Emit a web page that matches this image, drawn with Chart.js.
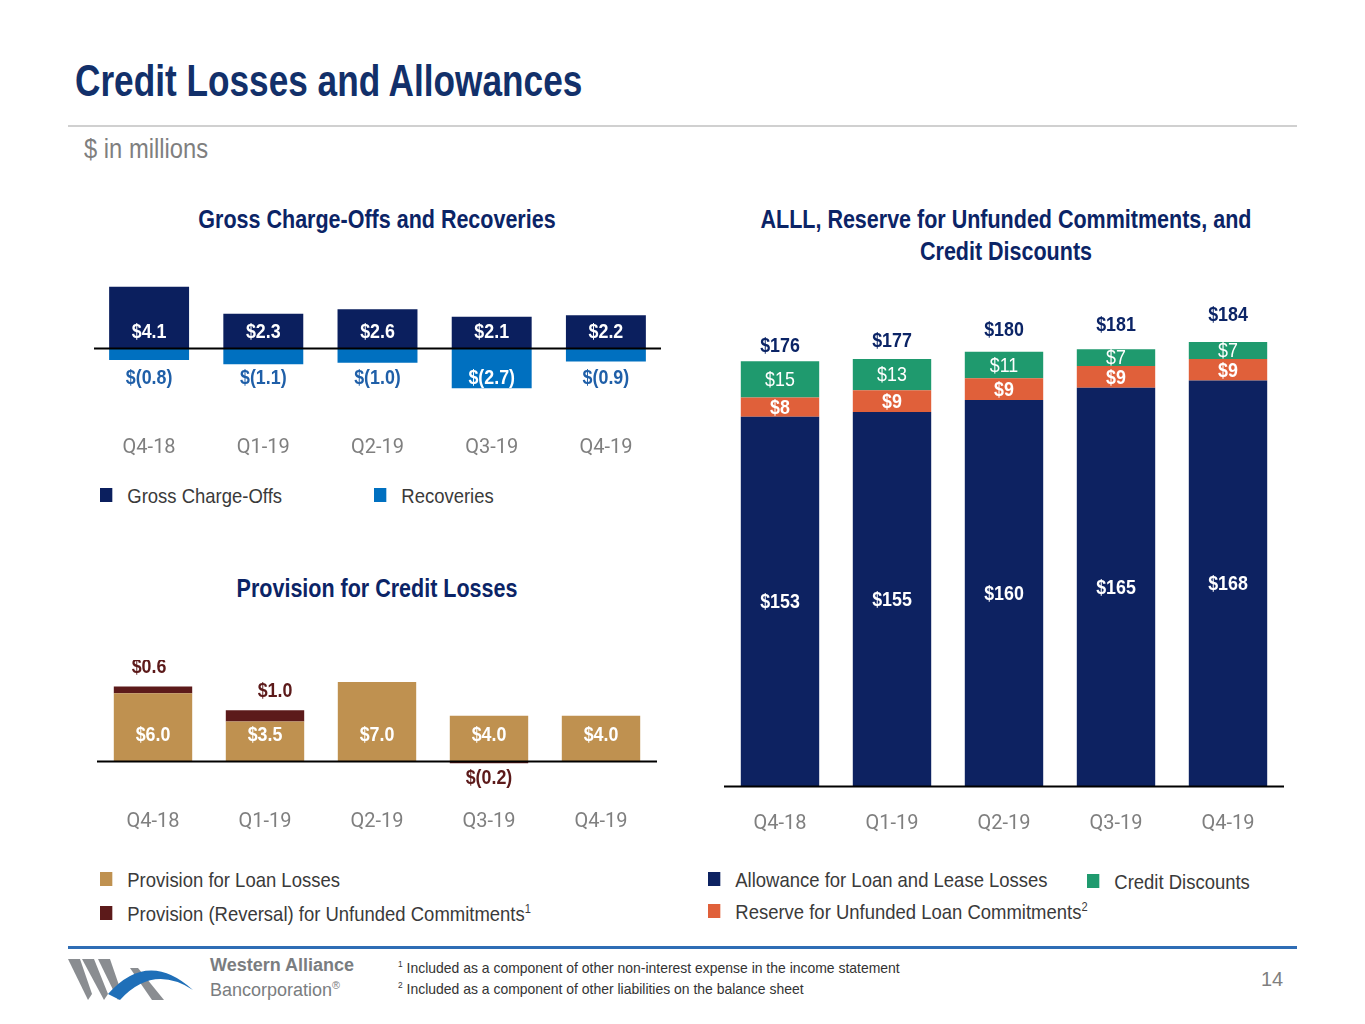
<!DOCTYPE html>
<html>
<head>
<meta charset="utf-8">
<script src="https://cdn.jsdelivr.net/npm/chart.js@4/dist/chart.umd.min.js"></script>
<style>
  body { margin: 0; width: 1365px; height: 1024px; background: #fff; position: relative; overflow: hidden;
    font-family: "Liberation Sans", sans-serif; }
  .abs { position: absolute; }
  .title { left: 75px; top: 56px; font-size: 44px; font-weight: bold; color: #12306a; transform: scaleX(0.8); transform-origin: left; white-space: nowrap; }
  .sub { left: 84px; top: 134px; font-size: 27px; color: #7f7f7f; transform: scaleX(0.88); transform-origin: left; }
  .ctitle { font-size: 25px; font-weight: bold; color: #0b2466; text-align: center; line-height: 32px; transform: scaleX(0.86); transform-origin: center; }
  .leg { font-size: 21px; color: #3a3a3a; white-space: nowrap; transform: scaleX(0.88); transform-origin: left; }
  .leg i { display: inline-block; width: 14px; height: 14px; margin-right: 17px; vertical-align: 1px; }
  .foot { left: 398px; font-size: 15px; color: #333; transform: scaleX(0.93); transform-origin: left; white-space: nowrap; }
  sup { font-size: 60%; }
</style>
</head>
<body>
<div class="abs title">Credit Losses and Allowances</div>
<div class="abs" style="left:68px;top:125px;width:1229px;height:2px;background:#d0d0d0"></div>
<div class="abs sub">$ in millions</div>

<div class="abs ctitle" style="left:57px;width:640px;top:203px">Gross Charge-Offs and Recoveries</div>
<div class="abs ctitle" style="left:676px;width:660px;top:203px">ALLL, Reserve for Unfunded Commitments, and<br>Credit Discounts</div>
<div class="abs ctitle" style="left:57px;width:640px;top:572px">Provision for Credit Losses</div>

<canvas id="chGross" class="abs" style="left:78px;top:270px"></canvas>
<canvas id="chProv" class="abs" style="left:97px;top:660px"></canvas>
<canvas id="chAlll" class="abs" style="left:724px;top:300px"></canvas>

<div class="abs leg" style="left:100px;top:484px"><i style="background:#0b1f5e"></i>Gross Charge-Offs</div>
<div class="abs leg" style="left:374px;top:484px"><i style="background:#0070c0"></i>Recoveries</div>
<div class="abs leg" style="left:100px;top:868px"><i style="background:#bf9150"></i>Provision for Loan Losses</div>
<div class="abs leg" style="left:100px;top:902px"><i style="background:#5c1a1a"></i>Provision (Reversal) for Unfunded Commitments<sup>1</sup></div>
<div class="abs leg" style="left:708px;top:868px"><i style="background:#0d2261"></i>Allowance for Loan and Lease Losses</div>
<div class="abs leg" style="left:1087px;top:870px"><i style="background:#1f9a6e"></i>Credit Discounts</div>
<div class="abs leg" style="left:708px;top:900px"><i style="background:#e0603a"></i>Reserve for Unfunded Loan Commitments<sup>2</sup></div>

<div class="abs" style="left:68px;top:946px;width:1229px;height:3px;background:#2f6db5"></div>
<svg class="abs" style="left:68px;top:954px" width="130" height="50">
  <polygon points="0,5 12,5 24,40 20,46" fill="#8a8d91"/>
  <polygon points="14,5 26,5 40,40 36,46" fill="#8a8d91"/>
  <polygon points="30,5 42,5 54,40 50,46" fill="#8a8d91"/>
  <polygon points="62,14 70,14 96,46 84,46" fill="#8a8d91"/>
  <path d="M40,40 Q80,-5 125,36 Q85,10 52,46 Z" fill="#1f6fb8"/>
</svg>
<div class="abs" style="left:210px;top:955px;font-size:18px;font-weight:bold;color:#7a7d80">Western Alliance</div>
<div class="abs" style="left:210px;top:979px;font-size:18px;color:#7a7d80">Bancorporation<sup>®</sup></div>
<div class="abs foot" style="top:959px"><sup>1</sup> Included as a component of other non-interest expense in the income statement</div>
<div class="abs foot" style="top:980px"><sup>2</sup> Included as a component of other liabilities on the balance sheet</div>
<div class="abs" style="left:1261px;top:968px;font-size:20px;color:#7f7f7f">14</div>

<script>
const quarters = ["Q4-18", "Q1-19", "Q2-19", "Q3-19", "Q4-19"];
const grossChargeOffs = [4.1, 2.3, 2.6, 2.1, 2.2];
const recoveries = [-0.8, -1.1, -1.0, -2.7, -0.9];
const loanProvision = [6.0, 3.5, 7.0, 4.0, 4.0];
const unfundedProvision = [0.6, 1.0, 0, -0.2, 0];
const alll = [153, 155, 160, 165, 168];
const unfundedReserve = [8, 9, 9, 9, 9];
const creditDiscounts = [15, 13, 11, 7, 7];
const totals = [176, 177, 180, 181, 184];

const FONT = "Roboto";
Chart.defaults.font.family = FONT;
Chart.defaults.animation = false;
Chart.defaults.responsive = false;
Chart.defaults.devicePixelRatio = 1;

const money = (v, d) => v < 0 ? "$(" + Math.abs(v).toFixed(d) + ")" : "$" + v.toFixed(d);

// line at zero; optional inset keeps it to the visible plot width
const zeroLine = {
  id: "zeroLine",
  afterDatasetsDraw(chart, args, opts) {
    const { ctx, chartArea, scales } = chart;
    const inset = opts.inset || 0;
    const y = Math.round(scales.y.getPixelForValue(0)) + 0.5;
    ctx.save();
    ctx.strokeStyle = "#000";
    ctx.lineWidth = 2;
    ctx.beginPath();
    ctx.moveTo(chartArea.left + inset, y);
    ctx.lineTo(chartArea.right - inset, y);
    ctx.stroke();
    ctx.restore();
  },
};

const barLabels = {
  id: "barLabels",
  afterDraw(chart, args, opts) {
    const ctx = chart.ctx;
    ctx.save();
    ctx.textAlign = "center";
    ctx.textBaseline = "middle";
    opts.fn(ctx, chart);
    ctx.restore();
  },
};

// narrow look: squeeze Liberation Sans horizontally
function text(ctx, s, x, y, color, bold) {
  ctx.save();
  ctx.translate(x, y);
  ctx.scale(0.85, 1);
  ctx.fillStyle = color;
  ctx.font = (bold ? "bold " : "") + "21px 'Liberation Sans'";
  ctx.fillText(s, 0, 0);
  ctx.restore();
}

function xAxis(padding, height) {
  return {
    stacked: true,
    grid: { display: false, drawTicks: false },
    border: { display: false },
    ticks: { color: "#7f7f7f", font: { size: 20 }, padding: padding },
    afterFit(scale) { scale.height = height; },
  };
}

function yAxis(min, max) {
  return { stacked: true, display: false, min: min, max: max };
}

function setSize(id, w, h) {
  const c = document.getElementById(id);
  c.width = w; c.height = h;
  c.style.width = w + "px"; c.style.height = h + "px";
  return c;
}

new Chart(setSize("chGross", 599, 200), {
  type: "bar",
  data: {
    labels: quarters,
    datasets: [
      { data: grossChargeOffs, backgroundColor: "#0b1f5e", categoryPercentage: 1, barPercentage: 0.7 },
      { data: recoveries, backgroundColor: "#0070c0", categoryPercentage: 1, barPercentage: 0.7 },
    ],
  },
  options: {
    layout: { padding: 0 },
    plugins: {
      legend: { display: false }, tooltip: { enabled: false },
      zeroLine: { inset: 2 },
      barLabels: {
        fn(ctx, chart) {
          const y0 = chart.scales.y.getPixelForValue(0);
          chart.getDatasetMeta(0).data.forEach((b, i) => text(ctx, money(grossChargeOffs[i], 1), b.x, y0 - 16, "#fff", true));
          chart.getDatasetMeta(1).data.forEach((b, i) =>
            text(ctx, money(recoveries[i], 1), b.x, y0 + 30, i === 3 ? "#fff" : "#1f5fa8", true));
        },
      },
    },
    scales: { x: xAxis(46, 80), y: yAxis(-2.82, 5.23) },
  },
  plugins: [zeroLine, barLabels],
});

new Chart(setSize("chProv", 560, 174), {
  type: "bar",
  data: {
    labels: quarters,
    datasets: [
      { data: loanProvision, backgroundColor: "#bf9150", categoryPercentage: 1, barPercentage: 0.7 },
      { data: unfundedProvision, backgroundColor: "#5c1a1a", categoryPercentage: 1, barPercentage: 0.7 },
    ],
  },
  options: {
    layout: { padding: 0 },
    plugins: {
      legend: { display: false }, tooltip: { enabled: false },
      barLabels: {
        fn(ctx, chart) {
          const y0 = chart.scales.y.getPixelForValue(0);
          chart.getDatasetMeta(0).data.forEach((b, i) => text(ctx, money(loanProvision[i], 1), b.x, y0 - 26, "#fff", true));
          chart.getDatasetMeta(1).data.forEach((b, i) => {
            const v = unfundedProvision[i];
            if (v > 0) text(ctx, money(v, 1), b.x - (i === 0 ? 4 : -10), b.y - 19, "#5c1a1a", true);
            if (v < 0) text(ctx, money(v, 1), b.x, b.y + 15, "#5c1a1a", true);
          });
        },
      },
    },
    scales: { x: xAxis(20, 44), y: yAxis(-2.57, 8.94) },
  },
  plugins: [zeroLine, barLabels],
});

new Chart(setSize("chAlll", 560, 540), {
  type: "bar",
  data: {
    labels: quarters,
    datasets: [
      { data: alll, backgroundColor: "#0d2261", categoryPercentage: 1, barPercentage: 0.7 },
      { data: unfundedReserve, backgroundColor: "#e0603a", categoryPercentage: 1, barPercentage: 0.7 },
      { data: creditDiscounts, backgroundColor: "#1f9a6e", categoryPercentage: 1, barPercentage: 0.7 },
    ],
  },
  options: {
    layout: { padding: 0 },
    plugins: {
      legend: { display: false }, tooltip: { enabled: false },
      barLabels: {
        fn(ctx, chart) {
          const series = [alll, unfundedReserve, creditDiscounts];
          series.forEach((s, d) => {
            chart.getDatasetMeta(d).data.forEach((b, i) =>
              text(ctx, "$" + s[i], b.x, (b.y + b.base) / 2 + 1, "#fff", d !== 2));
          });
          chart.getDatasetMeta(2).data.forEach((b, i) => text(ctx, "$" + totals[i], b.x, b.y - 15 - i * 3, "#0b2466", true));
        },
      },
    },
    scales: { x: xAxis(26, 54), y: yAxis(0, 201.4) },
  },
  plugins: [zeroLine, barLabels],
});
</script>
</body>
</html>
